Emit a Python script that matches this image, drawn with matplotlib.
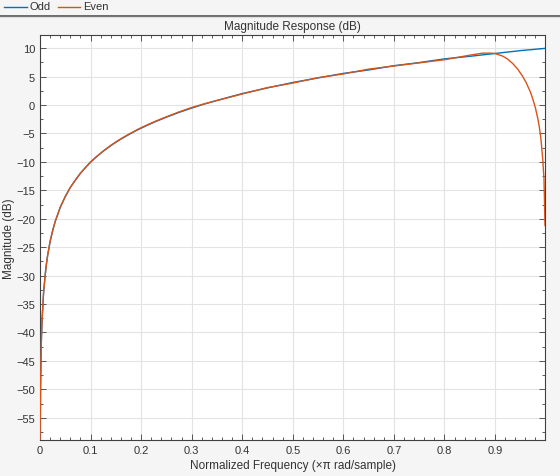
import matplotlib
matplotlib.use("Agg")
import matplotlib.pyplot as plt
from matplotlib.lines import Line2D
from matplotlib.ticker import MultipleLocator

plt.rcParams['font.family'] = ['Liberation Sans', 'DejaVu Sans']

# ---- data ----
odd_freq = [0.0, 0.0005, 0.001, 0.002, 0.003, 0.004, 0.007, 0.01, 0.0125, 0.015, 0.02, 0.025,
            0.03, 0.04, 0.05, 0.06, 0.07, 0.08, 0.09, 0.1, 0.11, 0.125, 0.14, 0.15, 0.16,
            0.175, 0.19, 0.2, 0.215, 0.23, 0.25, 0.275, 0.3, 0.325, 0.35, 0.375,
            0.4, 0.45, 0.5, 0.55, 0.6, 0.65, 0.7, 0.75, 0.8, 0.85, 0.9, 0.95, 0.999]
odd_mag = [-62.0, -56.1, -50.1, -44.0, -40.5, -38.0, -33.1, -30.1, -28.1, -26.5, -24.0, -22.1,
           -20.5, -18.0, -16.1, -14.5, -13.2, -12.0, -11.0, -10.08, -9.25, -8.14, -7.16, -6.57, -6.0,
           -5.24, -4.52, -4.08, -3.46, -2.87, -2.15, -1.31, -0.55, 0.16, 0.8, 1.4,
           2.0, 3.0, 3.95, 4.75, 5.55, 6.15, 6.9, 7.45, 8.1, 8.55, 9.05, 9.55, 9.95]

even_freq = [0.0, 0.0005, 0.001, 0.002, 0.003, 0.004, 0.007, 0.01, 0.0125, 0.015, 0.02, 0.025,
             0.03, 0.04, 0.05, 0.06, 0.07, 0.08, 0.09, 0.1, 0.11, 0.125, 0.14, 0.15, 0.16,
             0.175, 0.19, 0.2, 0.215, 0.23, 0.25, 0.275, 0.3, 0.325, 0.35, 0.375,
             0.4, 0.45, 0.5, 0.55, 0.6, 0.65, 0.7, 0.75, 0.8, 0.85, 0.875, 0.89, 0.9, 0.915,
             0.925, 0.935, 0.945, 0.955, 0.9615, 0.97, 0.975, 0.98, 0.985, 0.988, 0.991,
             0.9945, 0.997, 0.999]
even_mag = [-62.0, -56.1, -50.1, -44.0, -40.5, -38.0, -33.1, -30.1, -28.1, -26.5, -24.0, -22.1,
            -20.5, -18.0, -16.1, -14.5, -13.2, -12.0, -11.0, -10.0, -9.2, -8.1, -7.1, -6.5, -5.94,
            -5.17, -4.45, -4.0, -3.38, -2.8, -2.08, -1.22, -0.45, 0.2, 0.78, 1.35,
            1.93, 3.05, 3.85, 4.8, 5.45, 6.3, 6.85, 7.4, 7.95, 8.75, 9.1, 9.12, 9.05, 8.6,
            8.07, 7.3, 6.3, 5.0, 3.97, 2.3, 1.0, -0.5, -2.5, -4.0, -6.0,
            -9.5, -13.0, -21.2]

series_names = ["Odd", "Even"]
series_colors = ["#0072BD", "#D95319"]

x_ticks = [0, 0.1, 0.2, 0.3, 0.4, 0.5, 0.6, 0.7, 0.8, 0.9]
x_ticklabels = ["0", "0.1", "0.2", "0.3", "0.4", "0.5", "0.6", "0.7", "0.8", "0.9"]
y_ticks = list(range(-55, 11, 5))

# ---- figure ----
W, H = 560, 477
fig = plt.figure(figsize=(W / 100, H / 100), dpi=100, facecolor="#f5f5f5")
ax = fig.add_axes([40 / W, 1 - 441 / H, 505 / W, 405 / H])
ax.set_facecolor("white")

ax.plot(odd_freq, odd_mag, color=series_colors[0], lw=1.0, zorder=3)
ax.plot(even_freq, even_mag, color=series_colors[1], lw=1.0, zorder=3)

ax.set_xlim(0, 0.999)
ax.set_ylim(-58.9, 12.3)
ax.set_xticks(x_ticks)
ax.set_xticklabels(x_ticklabels)
ax.set_yticks(y_ticks)
ax.xaxis.set_minor_locator(MultipleLocator(0.02))
ax.yaxis.set_minor_locator(MultipleLocator(2.5))

spine_c = "#404040"
text_c = "#333333"
for s in ax.spines.values():
    s.set_color(spine_c)
    s.set_linewidth(0.8)
ax.tick_params(which="both", direction="in", top=True, right=True, color=spine_c,
               labelcolor=text_c, labelsize=8)
ax.tick_params(which="major", length=4, width=0.6, pad=3.5)
ax.tick_params(which="minor", length=2, width=0.6)
ax.grid(True, which="major", color="#e3e3e3", lw=0.8, zorder=0)
ax.set_axisbelow(True)

ax.set_title("Magnitude Response (dB)", fontsize=8.5, color=text_c, pad=4)
ax.set_xlabel("Normalized Frequency (\u00d7\u03c0 rad/sample)", fontsize=8.5, color=text_c, labelpad=3)
fig.text(9.5 / W, 0.5, "Magnitude (dB)", rotation=90, ha="center", va="center",
         fontsize=8.5, color=text_c)

# ---- legend strip at the top ----
fig.add_artist(Line2D([0, 1], [1 - 16.5 / H, 1 - 16.5 / H], color="#555555", lw=1.2,
                      transform=fig.transFigure))
fig.add_artist(Line2D([0, 1], [1 - 18 / H, 1 - 18 / H], color="#dddddd", lw=0.8,
                      transform=fig.transFigure))
legend_x = [(4, 27, 30), (58, 80, 83)]
for (x0, x1, xt), name, col in zip(legend_x, series_names, series_colors):
    y = 1 - 7.5 / H
    fig.add_artist(Line2D([x0 / W, x1 / W], [y, y], color=col, lw=1.0, transform=fig.transFigure))
    fig.text(xt / W, y, name, fontsize=8, va="center", ha="left", color=text_c)

fig.savefig("out.png", dpi=100, facecolor=fig.get_facecolor())
